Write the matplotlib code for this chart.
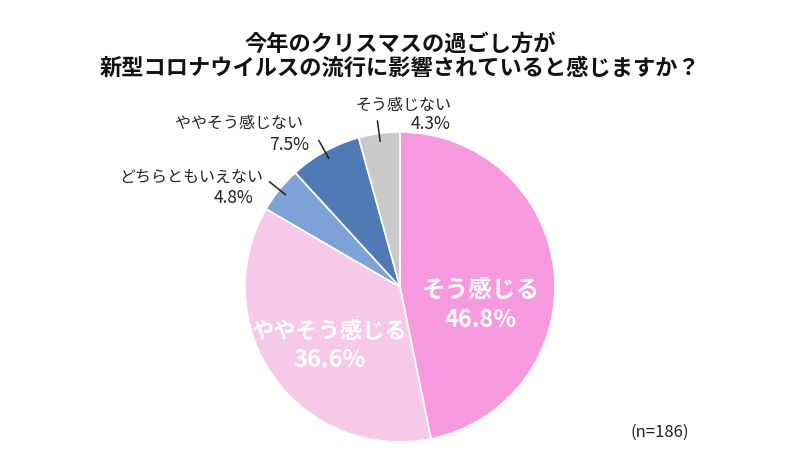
import numpy as np
import matplotlib
matplotlib.use("Agg")
import matplotlib.pyplot as plt

plt.rcParams['font.family'] = ['Noto Sans CJK JP', 'DejaVu Sans']

title = "今年のクリスマスの過ごし方が\n新型コロナウイルスの流行に影響されていると感じますか？"
categories = ["そう感じる", "ややそう感じる", "どちらともいえない", "ややそう感じない", "そう感じない"]
values = [46.8, 36.6, 4.8, 7.5, 4.3]
colors = ["#F799DE", "#F6C9E9", "#7DA2D8", "#4F7AB5", "#C9C9C9"]
note = "(n=186)"

W, H = 800, 471
fig = plt.figure(figsize=(W / 100, H / 100), dpi=100)
ax = fig.add_axes([0, 0, 1, 1])

cx, cy, R = 400, H - 287, 155
wedges, _ = ax.pie(values, colors=colors, startangle=90, counterclock=False,
                   center=(cx, cy), radius=R, frame=True,
                   wedgeprops=dict(edgecolor='white', linewidth=1.2))
ax.set_xlim(0, W)
ax.set_ylim(0, H)
ax.set_aspect('equal')
ax.axis('off')

fig.text(0.5, 1 - 56 / H, title, ha='center', va='center', fontsize=16,
         fontweight='bold', linespacing=1.05, color='#111111')

# inner labels (white)
inner = {0: (481, 290, 320, 17), 1: (329, 331, 360, 16)}
for i, (x, y1, y2, fs) in inner.items():
    ax.text(x, H - y1, categories[i], ha='center', va='center', fontsize=fs,
            fontweight='bold', color='white')
    ax.text(x, H - y2, f"{values[i]}%", ha='center', va='center', fontsize=17,
            fontweight='bold', color='white')

# outer labels
outer = {2: ((191, 177), (233, 198)), 3: ((239, 123), (289, 145)), 4: ((403, 105), (431, 124))}
for i, ((x1, y1), (x2, y2)) in outer.items():
    ax.text(x1, H - y1, categories[i], ha='center', va='center', fontsize=11.5,
            color='#222222')
    ax.text(x2, H - y2, f"{values[i]}%", ha='center', va='center', fontsize=12.5,
            color='#222222')
    w = wedges[i]
    ang = np.deg2rad((w.theta1 + w.theta2) / 2)
    r0, r1 = 0.95 * R, 1.08 * R
    ax.plot([cx + r0 * np.cos(ang), cx + r1 * np.cos(ang)],
            [cy + r0 * np.sin(ang), cy + r1 * np.sin(ang)],
            color='#222222', linewidth=1.1)

ax.text(660, H - 432, note, ha='center', va='center', fontsize=12, color='#222222')

fig.savefig("out.png", dpi=100, facecolor='white')
